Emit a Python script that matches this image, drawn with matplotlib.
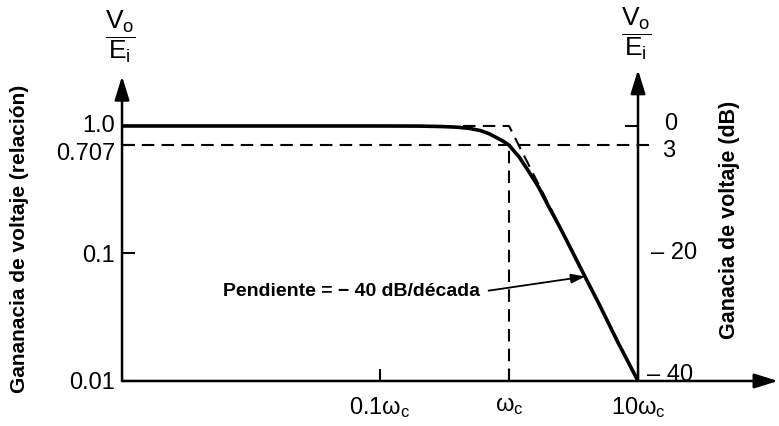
import matplotlib
matplotlib.use('Agg')
import matplotlib.pyplot as plt
import matplotlib.transforms as mtransforms
from matplotlib.ticker import NullLocator

plt.rcParams['font.family'] = ['Liberation Sans', 'DejaVu Sans']
plt.rcParams['mathtext.fontset'] = 'custom'
plt.rcParams['mathtext.rm'] = 'Liberation Sans'
plt.rcParams['mathtext.it'] = 'Liberation Sans'
plt.rcParams['mathtext.bf'] = 'Liberation Sans:bold'

# response curve (w/wc, Vo/Ei)
freq_ratio = [0.001, 0.1, 0.2, 0.3, 0.4, 0.5, 0.6, 0.7, 0.8, 0.9, 1.0,
              1.2, 1.4, 1.7, 2.0, 2.5, 3.0, 4.0, 5.0, 7.0, 10.0]
gain = [1.0, 1.0, 0.998, 0.99, 0.978, 0.955, 0.92, 0.87, 0.81, 0.76, 0.707,
        0.57, 0.45, 0.33, 0.24, 0.158, 0.11, 0.062, 0.04, 0.02, 0.01]

# straight-line asymptotes
asym_freq = [0.44, 1.0, 10.0]
asym_gain = [1.0, 1.0, 0.01]

wc = 1.0
cutoff_gain = 0.707

left_ticks = [1.0, 0.707, 0.1, 0.01]
left_tick_labels = ['1.0', '0.707', '0.1', '0.01']
x_ticks = [0.1, 1.0, 10.0]
x_tick_labels = [r'$0.1\omega_c$', r'$\omega_c$', r'$10\omega_c$']
db_ticks = [1.0, 0.707, 0.1, 0.01]
db_labels = ['0', '3', '– 20', '– 40']
db_offsets = [(19, 1.5), (17, -4), (9, 0), (6.5, 4.5)]  # points, label placement

fig = plt.figure(figsize=(7.79, 4.26), dpi=100)
ax = fig.add_axes([0, 0, 1, 1])
ax.set_xscale('log')
ax.set_yscale('log')
ax.set_xlim(10**-3.946, 10**2.093)
ax.set_ylim(10**-2.353, 10**0.988)

for s in ['top', 'right', 'left', 'bottom']:
    ax.spines[s].set_visible(False)
ax.spines['left'].set_position(('data', 1e-3))
ax.spines['bottom'].set_position(('data', 0.01))

# axes drawn as arrows
arrow_kw = dict(arrowstyle='-|>,head_length=0.9,head_width=0.28', lw=1.8,
                color='black', shrinkA=0, shrinkB=0, mutation_scale=16)
ax.annotate('', xy=(1e-3, 10**0.39), xytext=(1e-3, 0.01), arrowprops=arrow_kw)
ax.annotate('', xy=(10, 10**0.44), xytext=(10, 0.01), arrowprops=arrow_kw)
ax.annotate('', xy=(10**2.085, 0.01), xytext=(1e-3, 0.01), arrowprops=arrow_kw)

ax.set_yticks(left_ticks, left_tick_labels)
ax.set_xticks(x_ticks, x_tick_labels)
ax.yaxis.set_minor_locator(NullLocator())
ax.xaxis.set_minor_locator(NullLocator())
ax.tick_params(axis='y', direction='in', length=9, width=1.5, labelsize=17, pad=5, right=False)
ax.tick_params(axis='x', direction='in', length=9, width=1.5, labelsize=17, pad=10, top=False)

# curve + dashed guides
dash = (0, (6, 3.5))
ax.plot(freq_ratio, gain, color='black', lw=2.6, solid_capstyle='butt')
ax.plot(asym_freq, asym_gain, color='black', lw=1.5, linestyle=dash)
ax.hlines(cutoff_gain, 1e-3, 10**1.12, colors='black', lw=1.5, linestyles=dash)
ax.vlines(wc, 0.01, cutoff_gain, colors='black', lw=1.5, linestyles=dash)

# right (dB) scale
ax.hlines(1.0, 10**0.9, 10, colors='black', lw=1.5)
for g, lab, off in zip(db_ticks, db_labels, db_offsets):
    ax.annotate(lab, xy=(10, g), xytext=off, textcoords='offset points',
                ha='left', va='center', fontsize=17)

ax.annotate('Pendiente = − 40 dB/década', xy=(3.9, 0.066), xytext=(0.0061, 0.05),
            ha='left', va='center', fontsize=14, fontweight='bold',
            arrowprops=dict(arrowstyle='-|>,head_length=0.6,head_width=0.2', lw=1.3,
                            color='black', shrinkA=4, shrinkB=0, relpos=(1, 0.5),
                            mutation_scale=14))

fig.text(120 / 779, 1 - 37 / 426, r'$\dfrac{V_o}{E_i}$', ha='center', va='center', fontsize=19)
fig.text(636 / 779, 1 - 34 / 426, r'$\dfrac{V_o}{E_i}$', ha='center', va='center', fontsize=19)

fig.text(20 / 779, 1 - 239 / 426, 'Gananacia de voltaje (relación)', rotation=90,
         ha='center', va='center', fontsize=15, fontweight='bold')
fig.text(729 / 779, 1 - 220 / 426, 'Ganacia de voltaje (dB)', rotation=90,
         ha='center', va='center', fontsize=15.5, fontweight='bold')

# nudge the crowded 1.0 / 0.707 labels apart, as in the original drawing
fig.canvas.draw()
for tick in ax.yaxis.get_major_ticks():
    txt = tick.label1.get_text()
    if txt == '0.707':
        dy = -4.5 / 72
    elif txt == '1.0':
        dy = 1.5 / 72
    else:
        continue
    tick.label1.set_transform(tick.label1.get_transform()
                              + mtransforms.ScaledTranslation(0, dy, fig.dpi_scale_trans))

fig.savefig('out.png', dpi=100)
